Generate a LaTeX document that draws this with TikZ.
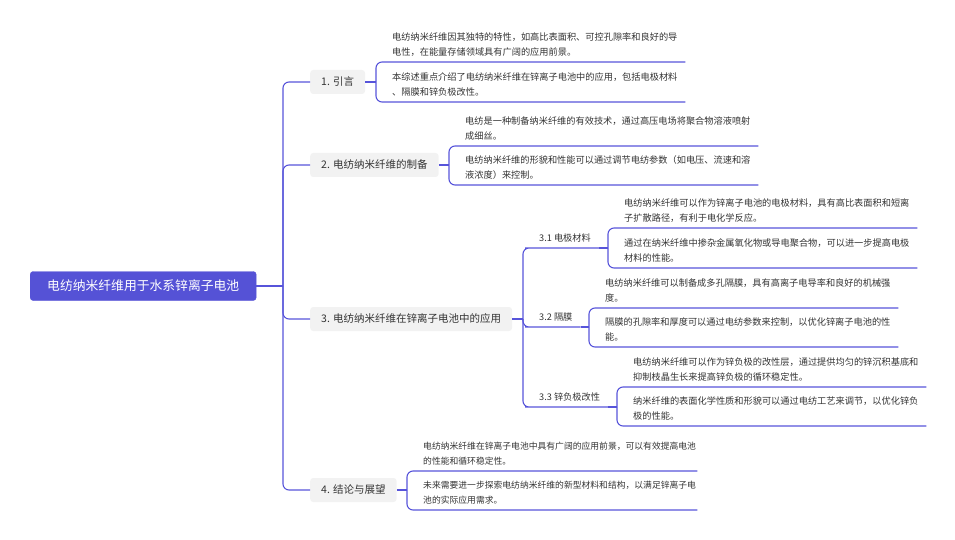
\documentclass[tikz,border=0pt]{standalone}
\usepackage{fontspec}
\setmainfont{Noto Sans CJK SC}
\definecolor{lila}{HTML}{5552D6}
\definecolor{linea}{HTML}{5754DA}
\definecolor{gris}{HTML}{F2F2F2}
\definecolor{texto}{HTML}{333333}

\begin{document}
\begin{tikzpicture}[x=1pt, y=-1pt,
    raiz/.style = {fill=lila, draw=lila, rounded corners=3pt, text=white, font=\fontsize{12.8}{15}\selectfont, inner xsep=17pt, minimum height=29pt, anchor=west},
    tema/.style = {fill=gris, rounded corners=3pt, text=texto, font=\fontsize{10.5}{13}\selectfont, inner xsep=11pt, minimum height=24pt, anchor=west},
    sub/.style = {text=texto, font=\fontsize{9.2}{15}\selectfont, inner xsep=8pt, inner ysep=6.4pt, text depth=0pt, anchor=south west},
    hoja/.style = {text=texto, font=\fontsize{9.2}{15}\selectfont, align=left, text width=#1, inner xsep=0pt, inner ysep=6.4pt, text depth=15pt, anchor=south west},
    enlace/.style = {draw=linea, line width=1.1pt, rounded corners=6pt}]
    \useasboundingbox (0,0) rectangle (955,540);

    % Nivel 1
    \node[raiz] (r) at (30,286) {电纺纳米纤维用于水系锌离子电池};
    \coordinate (t) at (283,286);

    % Nivel 2
    \node[tema] (n1) at (310,82) {1. 引言};
    \node[tema] (n2) at (310,165) {2. 电纺纳米纤维的制备};
    \node[tema] (n3) at (310,319) {3. 电纺纳米纤维在锌离子电池中的应用};
    \node[tema] (n4) at (310,490) {4. 结论与展望};

    % Nivel 3
    \coordinate (t3) at (523,319);
    \node[sub] (s31) at (531,248) {3.1 电极材料};
    \node[sub] (s32) at (531,327) {3.2 隔膜};
    \node[sub] (s33) at (531,407) {3.3 锌负极改性};

    % Hojas
    \coordinate (b1) at (376,82);
    \node[hoja=293] (l1a) at (392,62) {电纺纳米纤维因其独特的特性，如高比表面积、可控孔隙率和良好的导\\电性，在能量存储领域具有广阔的应用前景。};
    \node[hoja=293] (l1b) at (392,102) {本综述重点介绍了电纺纳米纤维在锌离子电池中的应用，包括电极材料\\、隔膜和锌负极改性。};

    \coordinate (b2) at (449,165);
    \node[hoja=293] (l2a) at (465,146) {电纺是一种制备纳米纤维的有效技术，通过高压电场将聚合物溶液喷射\\成细丝。};
    \node[hoja=293] (l2b) at (465,185) {电纺纳米纤维的形貌和性能可以通过调节电纺参数（如电压、流速和溶\\液浓度）来控制。};

    \coordinate (b31) at (608,248);
    \node[hoja=293] (l31a) at (624,228) {电纺纳米纤维可以作为锌离子电池的电极材料，具有高比表面积和短离\\子扩散路径，有利于电化学反应。};
    \node[hoja=293] (l31b) at (624,268) {通过在纳米纤维中掺杂金属氧化物或导电聚合物，可以进一步提高电极\\材料的性能。};

    \coordinate (b32) at (589,327);
    \node[hoja=293] (l32a) at (605,308) {电纺纳米纤维可以制备成多孔隔膜，具有高离子电导率和良好的机械强\\度。};
    \node[hoja=293] (l32b) at (605,347) {隔膜的孔隙率和厚度可以通过电纺参数来控制，以优化锌离子电池的性\\能。};

    \coordinate (b33) at (617,407);
    \node[hoja=293] (l33a) at (633,387) {电纺纳米纤维可以作为锌负极的改性层，通过提供均匀的锌沉积基底和\\抑制枝晶生长来提高锌负极的循环稳定性。};
    \node[hoja=293] (l33b) at (633,426) {纳米纤维的表面化学性质和形貌可以通过电纺工艺来调节，以优化锌负\\极的性能。};

    \coordinate (b4) at (407,490);
    \node[hoja=274, font=\fontsize{8.8}{15}\selectfont] (l4a) at (423,471) {电纺纳米纤维在锌离子电池中具有广阔的应用前景，可以有效提高电池\\的性能和循环稳定性。};
    \node[hoja=274, font=\fontsize{8.8}{15}\selectfont] (l4b) at (423,510) {未来需要进一步探索电纺纳米纤维的新型材料和结构，以满足锌离子电\\池的实际应用需求。};

    % Conexiones
    \draw[enlace] (r.east) -- (t);
    \draw[enlace] (t) |- (n1.west);
    \draw[enlace] (t) |- (n2.west);
    \draw[enlace] (t) |- (n3.west);
    \draw[enlace] (t) |- (n4.west);

    \draw[enlace] (n3.east) -- (t3);
    \draw[enlace] (t3) |- (s31.south west) -- (s31.south east);
    \draw[enlace] (t3) |- (s32.south west) -- (s32.south east);
    \draw[enlace] (t3) |- (s33.south west) -- (s33.south east);

    \draw[enlace] (n1.east) -- (b1);
    \draw[enlace] (b1) |- (l1a.south west) -- (l1a.south east);
    \draw[enlace] (b1) |- (l1b.south west) -- (l1b.south east);
    \draw[enlace] (n2.east) -- (b2);
    \draw[enlace] (b2) |- (l2a.south west) -- (l2a.south east);
    \draw[enlace] (b2) |- (l2b.south west) -- (l2b.south east);
    \draw[enlace] (s31.south east) -- (b31);
    \draw[enlace] (b31) |- (l31a.south west) -- (l31a.south east);
    \draw[enlace] (b31) |- (l31b.south west) -- (l31b.south east);
    \draw[enlace] (s32.south east) -- (b32);
    \draw[enlace] (b32) |- (l32a.south west) -- (l32a.south east);
    \draw[enlace] (b32) |- (l32b.south west) -- (l32b.south east);
    \draw[enlace] (s33.south east) -- (b33);
    \draw[enlace] (b33) |- (l33a.south west) -- (l33a.south east);
    \draw[enlace] (b33) |- (l33b.south west) -- (l33b.south east);
    \draw[enlace] (n4.east) -- (b4);
    \draw[enlace] (b4) |- (l4a.south west) -- (l4a.south east);
    \draw[enlace] (b4) |- (l4b.south west) -- (l4b.south east);
\end{tikzpicture}
\end{document}
